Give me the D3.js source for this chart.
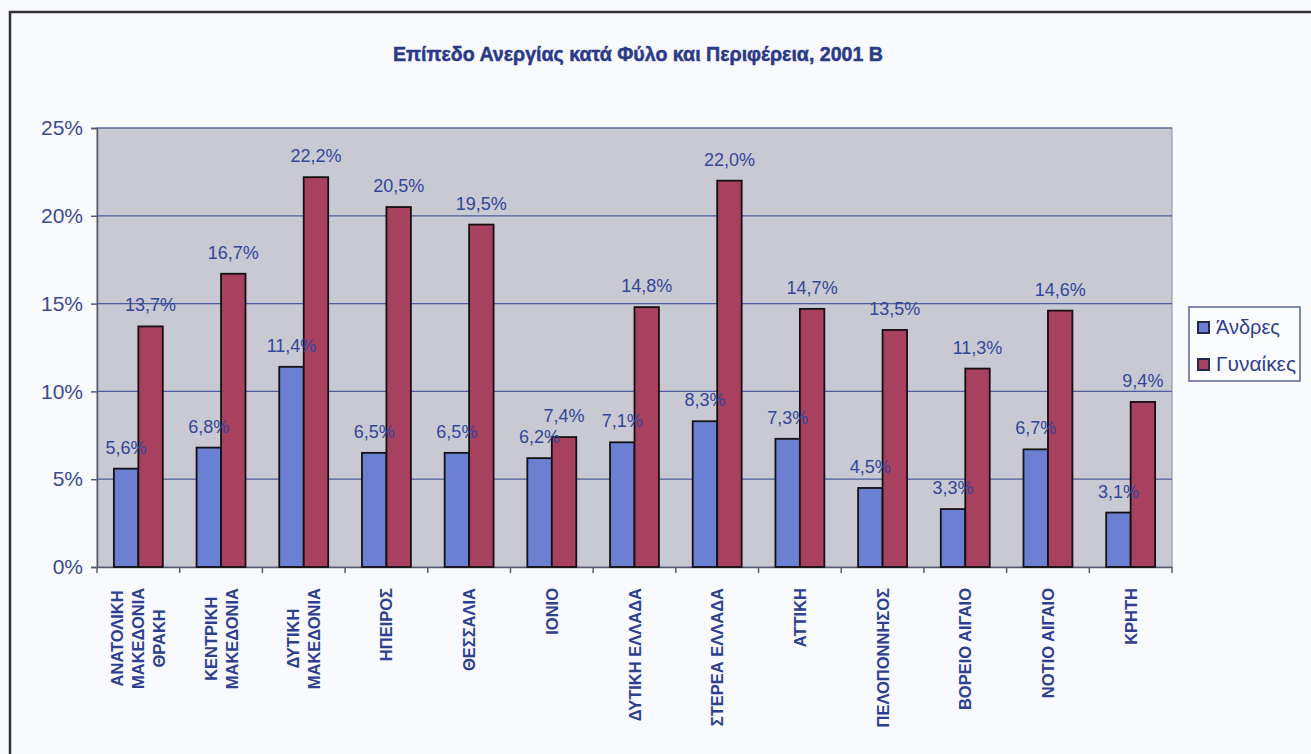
<!DOCTYPE html>
<html>
<head>
<meta charset="utf-8">
<script src="https://cdn.jsdelivr.net/npm/d3@7"></script>
<style>
  html, body { margin: 0; padding: 0; background: #f9fafd; }
  svg { display: block; }
  text { font-family: "Liberation Sans", Arial, sans-serif; }
</style>
</head>
<body>
<svg id="chart" width="1311" height="754"></svg>
<script>
// Regions (x-axis categories), one entry per line of the label
const regions = [
  ["ΑΝΑΤΟΛΙΚΗ", "ΜΑΚΕΔΟΝΙΑ", "ΘΡΑΚΗ"],
  ["ΚΕΝΤΡΙΚΗ", "ΜΑΚΕΔΟΝΙΑ"],
  ["ΔΥΤΙΚΗ", "ΜΑΚΕΔΟΝΙΑ"],
  ["ΗΠΕΙΡΟΣ"],
  ["ΘΕΣΣΑΛΙΑ"],
  ["ΙΟΝΙΟ"],
  ["ΔΥΤΙΚΗ ΕΛΛΑΔΑ"],
  ["ΣΤΕΡΕΑ ΕΛΛΑΔΑ"],
  ["ΑΤΤΙΚΗ"],
  ["ΠΕΛΟΠΟΝΝΗΣΟΣ"],
  ["ΒΟΡΕΙΟ ΑΙΓΑΙΟ"],
  ["ΝΟΤΙΟ ΑΙΓΑΙΟ"],
  ["ΚΡΗΤΗ"]
];
// Unemployment rate (%) by sex
const men   = [5.6, 6.8, 11.4, 6.5, 6.5, 6.2, 7.1, 8.3, 7.3, 4.5, 3.3, 6.7, 3.1];
const women = [13.7, 16.7, 22.2, 20.5, 19.5, 7.4, 14.8, 22.0, 14.7, 13.5, 11.3, 14.6, 9.4];
const seriesNames = ["Άνδρες", "Γυναίκες"];
const yTicks = [0, 5, 10, 15, 20, 25];
const title = "Επίπεδο Ανεργίας κατά Φύλο και Περιφέρεια, 2001 Β";

const colors = ["#6b80d2", "#a8405f"];
const navy = "#2f3f8f";

const svg = d3.select("#chart");

// outer frame
svg.append("path")
  .attr("d", "M10,760 L10,12 L1320,12")
  .attr("fill", "none").attr("stroke", "#333").attr("stroke-width", 2.5);

const plot = { left: 97, right: 1172, top: 128, bottom: 567 };

const x = d3.scaleBand()
  .domain(d3.range(regions.length))
  .range([plot.left, plot.right])
  .paddingInner(0).paddingOuter(0);

const sub = d3.scaleBand()
  .domain([0, 1])
  .range([0, x.bandwidth()])
  .paddingInner(0)
  .paddingOuter(0.69);

const y = d3.scaleLinear().domain([0, 25]).range([plot.bottom, plot.top]);

// plot background
svg.append("rect")
  .attr("x", plot.left).attr("y", plot.top)
  .attr("width", plot.right - plot.left).attr("height", plot.bottom - plot.top)
  .attr("fill", "#c8c9d2").attr("stroke", "#8a8c98").attr("stroke-width", 1);

// gridlines
svg.append("g")
  .selectAll("line")
  .data(yTicks.filter(d => d > 0))
  .join("line")
  .attr("x1", plot.left).attr("x2", plot.right)
  .attr("y1", d => y(d)).attr("y2", d => y(d))
  .attr("stroke", "#4c5c9c").attr("stroke-width", 1.2);

// y axis
const yAxis = svg.append("g")
  .attr("transform", `translate(${plot.left},0)`)
  .call(d3.axisLeft(y).tickValues(yTicks).tickSize(6).tickPadding(8).tickFormat(d => d + "%"));
yAxis.select(".domain").attr("stroke", "#555a70").attr("stroke-width", 1.5);
yAxis.selectAll(".tick line").attr("stroke", "#555a70").attr("stroke-width", 1.5);
yAxis.selectAll(".tick text")
  .attr("fill", "#3a4a92")
  .style("font-size", "21px")
  .style("font-family", "'Liberation Sans', Arial, sans-serif");

// x axis
const xAxis = svg.append("g")
  .attr("transform", `translate(0,${plot.bottom})`)
  .call(d3.axisBottom(x).tickSize(0).tickFormat(""));
xAxis.select(".domain").attr("stroke", "#555a70").attr("stroke-width", 1.5);
svg.append("g")
  .selectAll("line")
  .data(d3.range(regions.length + 1))
  .join("line")
  .attr("x1", i => plot.left + i * x.step())
  .attr("x2", i => plot.left + i * x.step())
  .attr("y1", plot.bottom).attr("y2", plot.bottom + 6)
  .attr("stroke", "#555a70").attr("stroke-width", 1.5);

// bars
const seriesData = [men, women];
seriesData.forEach((vals, s) => {
  const g = svg.append("g");
  g.selectAll("rect")
    .data(vals)
    .join("rect")
    .attr("x", (d, i) => x(i) + sub(s))
    .attr("y", d => y(d))
    .attr("width", sub.bandwidth())
    .attr("height", d => y(0) - y(d))
    .attr("fill", colors[s])
    .attr("stroke", "#151012").attr("stroke-width", 1.8);
});

// value labels
seriesData.forEach((vals, s) => {
  svg.append("g")
    .selectAll("text")
    .data(vals)
    .join("text")
    .attr("x", (d, i) => x(i) + sub(s) + sub.bandwidth() / 2)
    .attr("y", d => y(d) - 15)
    .attr("text-anchor", "middle")
    .attr("fill", "#34469a")
    .style("font-size", "18px")
    .text(d => d.toFixed(1).replace(".", ",") + "%");
});

// category labels, rotated, lines centred, block top-aligned under the axis
const labelTop = 588;
const lineGap = 21;
const cat = svg.append("g");
regions.forEach((lines, i) => {
  const cx = x(i) + x.bandwidth() / 2;
  const t = cat.append("text")
    .attr("fill", navy)
    .style("font-size", "16.5px")
    .style("font-weight", "bold");
  lines.forEach(ln => t.append("tspan").text(ln));
  const widths = [];
  t.selectAll("tspan").each(function() { widths.push(this.getComputedTextLength()); });
  const L = d3.max(widths);
  const blockCenter = labelTop + L / 2;
  const n = lines.length;
  t.attr("text-anchor", "middle")
   .attr("transform", `translate(${cx},${blockCenter}) rotate(-90)`);
  t.selectAll("tspan")
    .attr("x", 0)
    .attr("y", (d, k) => (k - (n - 1) / 2) * lineGap + 6);
});

// title
svg.append("text")
  .attr("x", 638).attr("y", 61)
  .attr("text-anchor", "middle")
  .attr("fill", "#2b3a88")
  .attr("stroke", "#2b3a88").attr("stroke-width", 0.5)
  .style("font-size", "20px")
  .style("font-weight", "bold")
  .attr("textLength", 490)
  .attr("lengthAdjust", "spacingAndGlyphs")
  .text(title);

// legend
const lg = svg.append("g").attr("transform", "translate(1189,307)");
lg.append("rect")
  .attr("width", 111).attr("height", 74)
  .attr("fill", "#fbfcfe").attr("stroke", "#5a6590").attr("stroke-width", 1.5);
seriesNames.forEach((name, s) => {
  const yy = 20 + s * 37;
  lg.append("rect")
    .attr("x", 9).attr("y", yy - 5).attr("width", 11).attr("height", 11)
    .attr("fill", colors[s]).attr("stroke", "#222a4a").attr("stroke-width", 2);
  lg.append("text")
    .attr("x", 27).attr("y", yy + 7)
    .attr("fill", navy)
    .style("font-size", "20px")
    .attr("textLength", s === 0 ? 64 : 80)
    .attr("lengthAdjust", "spacingAndGlyphs")
    .text(name);
});
</script>
</body>
</html>
